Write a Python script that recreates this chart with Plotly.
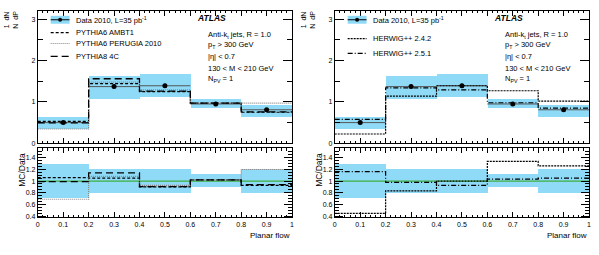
import plotly.graph_objects as go

# ---- data ----
bin_edges = [0.0, 0.2, 0.4, 0.6, 0.8, 1.0]
bin_centers = [0.1, 0.3, 0.5, 0.7, 0.9]
data_vals = [0.50, 1.37, 1.39, 0.95, 0.81]
data_stat = [0.02, 0.05, 0.05, 0.02, 0.02]
band_lo = [0.36, 1.07, 1.11, 0.86, 0.65]
band_hi = [0.65, 1.64, 1.67, 1.07, 0.94]
ratio_band_lo = [0.71, 0.79, 0.80, 0.90, 0.79]
ratio_band_hi = [1.29, 1.21, 1.21, 1.12, 1.20]

pythia6_ambt1 = [0.53, 1.44, 1.25, 0.97, 0.75]
pythia6_perugia = [0.345, 1.48, 1.29, 0.97, 0.97]
pythia8_4c = [0.495, 1.56, 1.26, 0.97, 0.76]
herwig_242 = [0.225, 1.14, 1.39, 1.27, 1.02]
herwig_251 = [0.58, 1.34, 1.29, 0.98, 0.85]

x_ticks = [0, 0.1, 0.2, 0.3, 0.4, 0.5, 0.6, 0.7, 0.8, 0.9, 1]
x_ticklabels = ["0", "0.1", "0.2", "0.3", "0.4", "0.5", "0.6", "0.7", "0.8", "0.9", "1"]

W, H = 599, 255
FONT = "Liberation Sans, Arial, sans-serif"
BLUE = "#8fdaf7"

def px_x(p):
    return p / W

def px_y(p):
    return 1 - p / H

panels = [
    dict(xl=36, xr=292, mcs=[("PYTHIA6 AMBT1", pythia6_ambt1, "black", "3px,2px", 1.2),
                              ("PYTHIA6 PERUGIA 2010", pythia6_perugia, "#888888", "1px,1px", 1.2),
                              ("PYTHIA8 4C", pythia8_4c, "black", "7px,4px", 1.3)],
         legend_rows=[33, 44, 57]),
    dict(xl=335, xr=591, mcs=[("HERWIG++ 2.4.2", herwig_242, "black", "2px,1px", 1.2),
                              ("HERWIG++ 2.5.1", herwig_251, "black", "5px,2px,1px,2px", 1.2)],
         legend_rows=[39, 54]),
]

top_y = (11, 145)
bot_y = (150, 220)

fig = go.Figure()
layout = dict(width=W, height=H, margin=dict(l=0, r=0, t=0, b=0),
              paper_bgcolor="white", plot_bgcolor="white", showlegend=False,
              font=dict(family=FONT, size=7, color="black"))
shapes = []
annotations = []

def step_y(vals):
    return list(vals) + [vals[-1]]

axis_common = dict(showgrid=False, zeroline=False, showline=True, linecolor="black",
                   linewidth=1, mirror="ticks", ticks="inside", tickcolor="black",
                   tickfont=dict(family=FONT, size=7))

for i, p in enumerate(panels):
    xa_top = "x%d" % (2 * i + 1) if (2 * i + 1) > 1 else "x"
    ya_top = "y%d" % (2 * i + 1) if (2 * i + 1) > 1 else "y"
    xa_bot = "x%d" % (2 * i + 2)
    ya_bot = "y%d" % (2 * i + 2)
    dom_x = [px_x(p["xl"]), px_x(p["xr"])]

    # ---- top panel ----
    fig.add_trace(go.Bar(x=bin_centers, y=[h - l for h, l in zip(band_hi, band_lo)], base=band_lo,
                         width=0.2, marker=dict(color=BLUE, line=dict(width=0)),
                         xaxis=xa_top, yaxis=ya_top, hoverinfo="skip"))
    for k in range(len(bin_centers)):
        fig.add_trace(go.Scatter(x=[bin_edges[k], bin_edges[k + 1]], y=[data_vals[k], data_vals[k]],
                                 mode="lines", line=dict(color="#555555", width=1),
                                 xaxis=xa_top, yaxis=ya_top, hoverinfo="skip"))
    for name, vals, col, dash, w in p["mcs"]:
        fig.add_trace(go.Scatter(x=bin_edges, y=step_y(vals), mode="lines", line_shape="hv",
                                 line=dict(color=col, dash=dash, width=w),
                                 xaxis=xa_top, yaxis=ya_top, name=name))
    fig.add_trace(go.Scatter(x=bin_centers, y=data_vals, mode="markers",
                             marker=dict(color="black", size=5),
                             error_y=dict(type="data", array=data_stat, color="black", thickness=1, width=0),
                             xaxis=xa_top, yaxis=ya_top, name="Data"))

    # ---- bottom (ratio) panel ----
    fig.add_trace(go.Bar(x=bin_centers, y=[h - l for h, l in zip(ratio_band_hi, ratio_band_lo)],
                         base=ratio_band_lo, width=0.2, marker=dict(color=BLUE, line=dict(width=0)),
                         xaxis=xa_bot, yaxis=ya_bot, hoverinfo="skip"))
    fig.add_trace(go.Scatter(x=[bin_edges[0], bin_edges[-1]], y=[1, 1], mode="lines",
                             line=dict(color="#3fae3f", width=1.2), xaxis=xa_bot, yaxis=ya_bot))
    for name, vals, col, dash, w in p["mcs"]:
        ratio = [v / d for v, d in zip(vals, data_vals)]
        fig.add_trace(go.Scatter(x=bin_edges, y=step_y(ratio), mode="lines", line_shape="hv",
                                 line=dict(color=col, dash=dash, width=w),
                                 xaxis=xa_bot, yaxis=ya_bot))

    kt = "xaxis" if i == 0 else "xaxis%d" % (2 * i + 1)
    kty = "yaxis" if i == 0 else "yaxis%d" % (2 * i + 1)
    layout[kt] = dict(axis_common, domain=dom_x, range=[0, 1], anchor=ya_top,
                      tickvals=x_ticks, showticklabels=False, ticklen=5,
                      minor=dict(dtick=0.02, tick0=0, ticks="inside", ticklen=2.5, tickcolor="black"))
    layout[kty] = dict(axis_common, domain=[px_y(top_y[1]), px_y(top_y[0])], range=[0, 3.2],
                       anchor=xa_top, tickvals=[0, 1, 2, 3], ticklen=9,
                       minor=dict(dtick=0.5, tick0=0, ticks="inside", ticklen=5, tickcolor="black"))
    layout["xaxis%d" % (2 * i + 2)] = dict(axis_common, domain=dom_x, range=[0, 1], anchor=ya_bot,
                                           tickvals=x_ticks, ticktext=x_ticklabels, ticklen=5,
                                           minor=dict(dtick=0.02, tick0=0, ticks="inside", ticklen=2.5, tickcolor="black"))
    layout["yaxis%d" % (2 * i + 2)] = dict(axis_common, domain=[px_y(bot_y[1]), px_y(bot_y[0])],
                                           range=[0.38, 1.56], anchor=xa_bot,
                                           tickvals=[0.4, 0.6, 0.8, 1, 1.2, 1.4],
                                           ticktext=["0.4", "0.6", "0.8", "1", "1.2", "1.4"], ticklen=8,
                                           minor=dict(dtick=0.05, tick0=0, ticks="inside", ticklen=4, tickcolor="black"))

    # ---- legend (manual) ----
    xl, xr = p["xl"], p["xr"]
    wpx = xr - xl
    def dx(px):
        return (px - xl) / wpx
    def dy(py):
        return (top_y[1] - py) / (top_y[1] - top_y[0])
    xref = (kt.replace("axis", "")) + " domain"
    yref = (kty.replace("axis", "")) + " domain"
    sx0, sx1 = xl + 13, xl + 32
    shapes.append(dict(type="rect", xref=xref, yref=yref, x0=dx(sx0), x1=dx(sx1), y0=dy(24), y1=dy(16),
                       fillcolor=BLUE, line=dict(width=0), layer="above"))
    shapes.append(dict(type="line", xref=xref, yref=yref, x0=dx(sx0), x1=dx(sx1), y0=dy(20), y1=dy(20),
                       line=dict(color="black", width=1)))
    shapes.append(dict(type="circle", xref=xref, yref=yref, x0=dx((sx0 + sx1) / 2 - 2), x1=dx((sx0 + sx1) / 2 + 2),
                       y0=dy(22), y1=dy(18), fillcolor="black", line=dict(color="black", width=0)))
    annotations.append(dict(xref=xref, yref=yref, x=dx(xl + 36), y=dy(20), xanchor="left", yanchor="middle",
                            text="Data 2010, L=35 pb<sup>-1</sup>", showarrow=False,
                            font=dict(family=FONT, size=7.5)))
    for (name, vals, col, dash, w), row in zip(p["mcs"], p["legend_rows"]):
        shapes.append(dict(type="line", xref=xref, yref=yref, x0=dx(sx0), x1=dx(sx1), y0=dy(row), y1=dy(row),
                           line=dict(color=col, width=w, dash=dash)))
        annotations.append(dict(xref=xref, yref=yref, x=dx(xl + 36), y=dy(row), xanchor="left", yanchor="middle",
                                text=name, showarrow=False, font=dict(family=FONT, size=7.5)))
    annotations.append(dict(xref=xref, yref=yref, x=dx(xl + 158), y=dy(18), xanchor="left", yanchor="middle",
                            text="<b><i>ATLAS</i></b>", showarrow=False, font=dict(family=FONT, size=8.5)))
    info = ["Anti-k<sub>t</sub> jets, R = 1.0", "p<sub>T</sub> > 300 GeV", "|η| < 0.7",
            "130 < M < 210 GeV", "N<sub>PV</sub> = 1"]
    for txt, row in zip(info, [35, 46, 57, 69, 80]):
        annotations.append(dict(xref=xref, yref=yref, x=dx(xl + 169), y=dy(row), xanchor="left", yanchor="middle",
                                text=txt, showarrow=False, font=dict(family=FONT, size=7.5)))

    annotations.append(dict(xref="paper", yref="paper", x=px_x(xr), y=px_y(238), xanchor="right", yanchor="middle",
                            text="Planar flow", showarrow=False, font=dict(family=FONT, size=8)))
    annotations.append(dict(xref="paper", yref="paper", x=px_x(xl - 16), y=px_y(172), xanchor="center",
                            yanchor="middle", text="MC/Data", textangle=-90, showarrow=False,
                            font=dict(family=FONT, size=8.5)))
    annotations.append(dict(xref="paper", yref="paper", x=px_x(xl - 27), y=px_y(20), xanchor="center",
                            yanchor="middle", text="1  dN<br>N  dP", textangle=-90, showarrow=False,
                            font=dict(family=FONT, size=7)))

layout["shapes"] = shapes
layout["annotations"] = annotations
layout["bargap"] = 0
fig.update_layout(**layout)
fig.write_html("out.html", config={"displayModeBar": False},
               post_script="document.body.style.margin='0';document.body.style.overflow='hidden';")
